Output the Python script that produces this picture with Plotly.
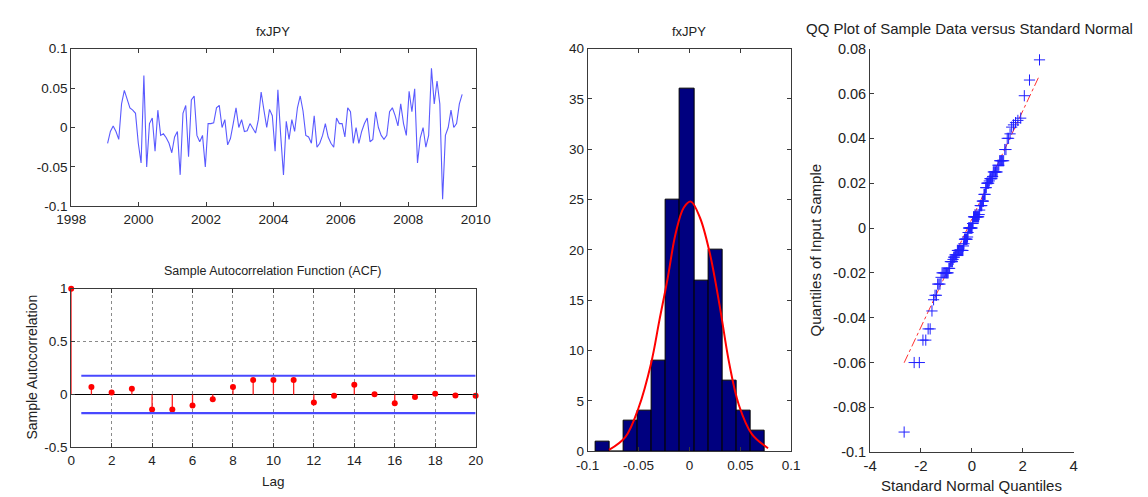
import numpy as np
import plotly.graph_objects as go
from statistics import NormalDist

# ---------------- data ----------------
YEAR_START = 1999.08
YEAR_END = 2009.60
TS_VALUES = [
    -0.020, -0.005, 0.002, -0.005, -0.015, 0.030, 0.047, 0.035, 0.025, 0.022,
    0.018, -0.020, -0.045, 0.066, -0.050, 0.005, 0.012, -0.030, 0.022, -0.010,
    -0.008, -0.013, -0.020, -0.032, -0.012, -0.005, -0.060, 0.018, 0.028, -0.037,
    0.035, 0.040, -0.010, -0.018, -0.010, -0.050, 0.005, 0.005, 0.006, 0.025,
    0.028, 0.000, 0.010, -0.022, -0.014, 0.005, 0.025, 0.000, 0.010, -0.005,
    -0.004, 0.005, -0.002, -0.007, 0.010, 0.045, 0.022, 0.000, 0.023, 0.015,
    -0.030, 0.048, -0.010, -0.060, 0.008, -0.015, 0.010, -0.005, 0.025, 0.040,
    0.021, -0.010, -0.012, -0.020, 0.015, -0.025, -0.020, -0.010, 0.005, -0.012,
    -0.020, -0.025, 0.012, 0.005, 0.005, -0.012, 0.025, 0.020, -0.020, 0.000,
    -0.020, -0.005, 0.005, 0.012, -0.018, -0.015, 0.020, 0.000, -0.010, -0.015,
    -0.010, 0.020, 0.025, 0.015, 0.002, 0.030, 0.005, -0.010, 0.046, 0.020,
    0.049, -0.045, -0.013, 0.000, -0.025, -0.010, 0.075, 0.030, 0.059, 0.030,
    -0.091, -0.010, 0.000, 0.022, 0.000, 0.005, 0.030, 0.042,
]
TS_YEARS = np.linspace(YEAR_START, YEAR_END, len(TS_VALUES))

ACF_LAGS = list(range(21))
ACF_VALUES = [1.0, 0.070, 0.018, 0.055, -0.143, -0.143, -0.104, -0.046, 0.070, 0.137,
              0.137, 0.137, -0.076, -0.012, 0.091, 0.003, -0.082, -0.024, 0.006, -0.009, -0.012]
ACF_BOUND = 0.177
ACF_BOUND_LAGS = [0.5, 20]

HIST_CENTERS = [-0.0856, -0.0717, -0.0578, -0.0439, -0.0300, -0.0161,
                -0.0022, 0.0117, 0.0256, 0.0395, 0.0534, 0.0673]
HIST_COUNTS = [1, 0, 3, 4, 9, 25, 36, 17, 20, 7, 4, 2]
HIST_WIDTH = 0.0139

FIT_X = [-0.079, -0.063, -0.050, -0.0375, -0.0295, -0.0215, -0.0136, -0.0056, 0.0014,
         0.0104, 0.020, 0.0295, 0.039, 0.0486, 0.0614, 0.0773]
FIT_Y = [0.13, 1.4, 4.3, 8.8, 13.0, 17.1, 21.6, 24.2, 24.8,
         23.2, 19.7, 14.6, 8.8, 4.6, 1.7, 0.3]

# QQ computed from the series
qq_y = np.sort(np.array(TS_VALUES))
n = len(qq_y)
nd = NormalDist()
qq_x = np.array([nd.inv_cdf((i + 0.5) / n) for i in range(n)])
q1y, q3y = np.percentile(qq_y, [25, 75])
q1x, q3x = nd.inv_cdf(0.25), nd.inv_cdf(0.75)
slope = (q3y - q1y) / (q3x - q1x)
icpt = q1y - slope * q1x
line_x = np.array([qq_x.min(), qq_x.max()])
line_y = icpt + slope * line_x

# ---------------- figure ----------------
FONT = "Liberation Sans"
TXT = "#222222"
AX = "#3a3a3a"

fig = go.Figure()

# panel 1: time series
fig.add_trace(go.Scatter(x=TS_YEARS, y=TS_VALUES, mode="lines",
                         line=dict(color="#5a5aff", width=1.1), xaxis="x", yaxis="y"))

# panel 2: ACF
stem_x, stem_y = [], []
for l, v in zip(ACF_LAGS, ACF_VALUES):
    stem_x += [l, l, None]
    stem_y += [0, v, None]
fig.add_trace(go.Scatter(x=stem_x, y=stem_y, mode="lines",
                         line=dict(color="#ff2020", width=1.3), xaxis="x2", yaxis="y2"))
fig.add_trace(go.Scatter(x=ACF_LAGS, y=ACF_VALUES, mode="markers", cliponaxis=False,
                         marker=dict(color="red", size=6), xaxis="x2", yaxis="y2"))
for s in (1, -1):
    fig.add_trace(go.Scatter(x=ACF_BOUND_LAGS, y=[s * ACF_BOUND] * 2, mode="lines",
                             line=dict(color="#4848ff", width=2.2), xaxis="x2", yaxis="y2"))

# panel 3: histogram + fit
fig.add_trace(go.Bar(x=HIST_CENTERS, y=HIST_COUNTS, width=HIST_WIDTH,
                     marker=dict(color="#00007f", line=dict(color="black", width=1)),
                     xaxis="x3", yaxis="y3"))
fig.add_trace(go.Scatter(x=FIT_X, y=FIT_Y, mode="lines", line=dict(color="red", width=2, shape="spline"),
                         xaxis="x3", yaxis="y3"))

# panel 4: QQ
fig.add_trace(go.Scatter(x=line_x, y=line_y, mode="lines",
                         line=dict(color="#ff3030", width=1, dash="dashdot"), xaxis="x4", yaxis="y4"))
fig.add_trace(go.Scatter(x=qq_x, y=qq_y, mode="markers",
                         marker=dict(symbol="cross-thin", size=8, line=dict(color="#2020ff", width=1)),
                         xaxis="x4", yaxis="y4"))


def ax(domain, rng, vals, texts, anchor, mirror="ticks", size=13.5, **kw):
    d = dict(domain=domain, range=rng, tickmode="array", tickvals=vals, ticktext=texts,
             showline=True, linecolor=AX, linewidth=1, mirror=mirror, ticks="inside",
             ticklen=4, tickcolor=AX, showgrid=False, zeroline=False, anchor=anchor,
             tickfont=dict(family=FONT, size=size, color=TXT), fixedrange=True)
    d.update(kw)
    return d


W, H = 1148, 497
def px(a, b):
    return [a / W, b / W]
def py(top, bottom):
    return [1 - bottom / H, 1 - top / H]

grid = dict(showgrid=True, gridcolor="#8a8a8a", griddash="dot", gridwidth=1)

fig.update_layout(
    width=W, height=H, margin=dict(l=0, r=0, t=0, b=0),
    paper_bgcolor="white", plot_bgcolor="white", showlegend=False, bargap=0,
    xaxis=ax(px(57.7, 473), [1998, 2010], [1998, 2000, 2002, 2004, 2006, 2008, 2010],
             ["1998", "2000", "2002", "2004", "2006", "2008", "2010"], "y"),
    yaxis=ax(py(42, 205), [-0.1, 0.1], [-0.1, -0.05, 0, 0.05, 0.1],
             ["-0.1", "-0.05", "0", "0.05", "0.1"], "x"),
    xaxis2=ax(px(57.7, 473), [0, 20], list(range(0, 21, 2)),
              [str(v) for v in range(0, 21, 2)], "y2", **grid),
    yaxis2=ax(py(290, 454), [-0.5, 1], [-0.5, 0, 0.5, 1], ["-0.5", "0", "0.5", "1"], "x2",
              zeroline=True, zerolinecolor="black", zerolinewidth=1, **grid),
    xaxis3=ax(px(588, 797), [-0.1, 0.1], [-0.1, -0.05, 0, 0.05, 0.1],
              ["-0.1", "-0.05", "0", "0.05", "0.1"], "y3", ticklabelstandoff=2),
    yaxis3=ax(py(42, 458), [0, 40], list(range(0, 41, 5)), [str(v) for v in range(0, 41, 5)], "x3"),
    xaxis4=ax(px(878, 1087), [-4, 4], [-4, -2, 0, 2, 4], ["-4", "-2", "0", "2", "4"], "y4",
              mirror=False, size=15),
    yaxis4=ax(py(42, 459), [-0.1, 0.08], [-0.1, -0.08, -0.06, -0.04, -0.02, 0, 0.02, 0.04, 0.06, 0.08],
              ["-0.1", "-0.08", "-0.06", "-0.04", "-0.02", "0", "0.02", "0.04", "0.06", "0.08"], "x4",
              mirror=False, size=14.5),
)

def note(text, x, y, size=13, angle=0):
    fig.add_annotation(text=text, x=x / W, y=1 - y / H, xref="paper", yref="paper",
                       showarrow=False, textangle=angle, xanchor="center", yanchor="middle",
                       font=dict(family=FONT, size=size, color=TXT))

note("fxJPY", 265, 24)
note("Sample Autocorrelation Function (ACF)", 264, 272, size=12.5)
note("Lag", 265, 489, size=13.5)
note("Sample Autocorrelation", 18, 371, size=14, angle=-90)
note("fxJPY", 692, 24)
note("QQ Plot of Sample Data versus Standard Normal", 980, 21, size=15)
note("Quantiles of Input Sample", 822, 250, size=15, angle=-90)
note("Standard Normal Quantiles", 982, 493, size=15)

fig.write_html("out.html")
